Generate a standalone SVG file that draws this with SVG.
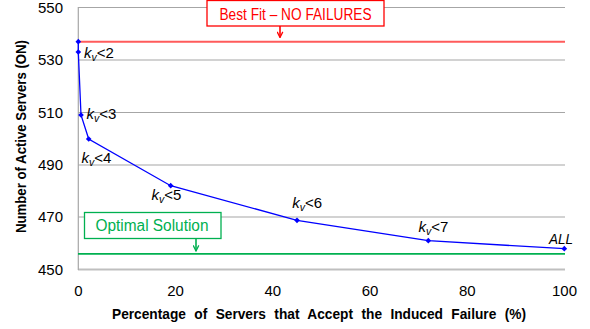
<svg xmlns="http://www.w3.org/2000/svg" width="590" height="329" viewBox="0 0 590 329">
  <style>
    .grid { stroke: #a6a6a6; stroke-width: 1.2; fill: none; }
    .axis { stroke: #bfbfbf; stroke-width: 2; fill: none; }
    .tick { font-family: "Liberation Sans", Arial, sans-serif; font-size: 15px; fill: #000; }
    .title { font-family: "Liberation Sans", Arial, sans-serif; font-size: 15px; font-weight: bold; fill: #000; }
    .lbl { font-family: "Liberation Sans", Arial, sans-serif; font-size: 15px; fill: #000; }
    .it { font-style: italic; }
    .sub { font-size: 10.5px; font-style: italic; }
    .series { stroke: #0000ff; stroke-width: 1.3; fill: none; }
    .pt { fill: #0000ff; }
  </style>
  <defs>
    <marker id="arrRed" viewBox="0 0 10 10" refX="9" refY="5" markerWidth="7" markerHeight="7" orient="auto" markerUnits="userSpaceOnUse">
      <path d="M1,1 L9,5 L1,9" fill="none" stroke="#ff0000" stroke-width="1.8"/>
    </marker>
    <marker id="arrGreen" viewBox="0 0 10 10" refX="9" refY="5" markerWidth="7" markerHeight="7" orient="auto" markerUnits="userSpaceOnUse">
      <path d="M1,1 L9,5 L1,9" fill="none" stroke="#00b050" stroke-width="1.8"/>
    </marker>
  </defs>

  <rect width="590" height="329" fill="#ffffff"/>

  <!-- gridlines and axes -->
  <g id="grid">
    <line class="grid" x1="78" y1="7.5" x2="565" y2="7.5"/>
    <line class="grid" x1="78" y1="60" x2="565" y2="60"/>
    <line class="grid" x1="78" y1="112.5" x2="565" y2="112.5"/>
    <line class="grid" x1="78" y1="165" x2="565" y2="165"/>
    <line class="grid" x1="78" y1="217" x2="565" y2="217"/>
    <line class="axis" x1="78" y1="269.5" x2="565" y2="269.5"/>
    <line class="grid" x1="78.3" y1="7" x2="78.3" y2="270"/>
  </g>

  <!-- tick labels -->
  <g id="y-ticks" class="tick" text-anchor="end">
    <text x="63" y="12.8">550</text>
    <text x="63" y="65.3">530</text>
    <text x="63" y="117.8">510</text>
    <text x="63" y="170.3">490</text>
    <text x="63" y="222.3">470</text>
    <text x="63" y="274.8">450</text>
  </g>
  <g id="x-ticks" class="tick" text-anchor="middle">
    <text x="78.3" y="295.5">0</text>
    <text x="175.5" y="295.5">20</text>
    <text x="272.8" y="295.5">40</text>
    <text x="370" y="295.5">60</text>
    <text x="467.3" y="295.5">80</text>
    <text x="564.5" y="295.5">100</text>
  </g>

  <!-- axis titles -->
  <text id="y-title" class="title" transform="translate(25.5,136.5) rotate(-90)" text-anchor="middle" textLength="193" lengthAdjust="spacingAndGlyphs">Number of Active Servers (ON)</text>
  <text id="x-title" class="title" x="112" y="318.5" textLength="414" lengthAdjust="spacingAndGlyphs" word-spacing="5">Percentage of Servers that Accept the Induced Failure (%)</text>

  <!-- reference levels -->
  <g id="best-fit">
    <line x1="78" y1="41.7" x2="565" y2="41.7" stroke="#ff5b5b" stroke-width="2"/>
    <rect x="207" y="0.5" width="177" height="25.5" fill="#ffffff" stroke="#ff0000" stroke-width="1.3"/>
    <text x="295.5" y="19.5" text-anchor="middle" font-family="'Liberation Sans', Arial, sans-serif" font-size="16" fill="#ff0000" textLength="152" lengthAdjust="spacingAndGlyphs">Best Fit – NO FAILURES</text>
  </g>
  <g id="optimal">
    <line x1="78" y1="253.8" x2="565" y2="253.8" stroke="#00b050" stroke-width="1.8"/>
    <rect x="84.5" y="212.5" width="136.5" height="26" fill="#ffffff" stroke="#00b050" stroke-width="1.3"/>
    <text x="152" y="231" text-anchor="middle" font-family="'Liberation Sans', Arial, sans-serif" font-size="16" fill="#00b050" textLength="113" lengthAdjust="spacingAndGlyphs">Optimal Solution</text>
  </g>

  <!-- connectors -->
  <g id="connectors">
    <line x1="280" y1="26" x2="280" y2="37.5" stroke="#ff0000" stroke-width="1.6" marker-end="url(#arrRed)"/>
    <line x1="196" y1="238.5" x2="196" y2="251" stroke="#00b050" stroke-width="1.6" marker-end="url(#arrGreen)"/>
  </g>

  <!-- data series -->
  <g id="series">
    <polyline class="series" points="78.3,41.7 78.3,52 81,115 88.7,139 170.7,185.7 297,220.3 428.3,240.7 564.3,248.7"/>
    <g class="pt">
      <rect x="76.3" y="39.7" width="4" height="4" transform="rotate(45 78.3 41.7)"/>
      <rect x="76.3" y="50" width="4" height="4" transform="rotate(45 78.3 52)"/>
      <rect x="79" y="113" width="4" height="4" transform="rotate(45 81 115)"/>
      <rect x="86.7" y="137" width="4" height="4" transform="rotate(45 88.7 139)"/>
      <rect x="168.7" y="183.7" width="4" height="4" transform="rotate(45 170.7 185.7)"/>
      <rect x="295" y="218.3" width="4" height="4" transform="rotate(45 297 220.3)"/>
      <rect x="426.3" y="238.7" width="4" height="4" transform="rotate(45 428.3 240.7)"/>
      <rect x="562.3" y="246.7" width="4" height="4" transform="rotate(45 564.3 248.7)"/>
    </g>
  </g>

  <!-- point labels -->
  <g id="labels" class="lbl">
    <text x="84" y="57.5"><tspan class="it">k</tspan><tspan class="sub" dy="3">v</tspan><tspan dy="-3">&lt;2</tspan></text>
    <text x="86.5" y="119"><tspan class="it">k</tspan><tspan class="sub" dy="3">v</tspan><tspan dy="-3">&lt;3</tspan></text>
    <text x="81.5" y="163"><tspan class="it">k</tspan><tspan class="sub" dy="3">v</tspan><tspan dy="-3">&lt;4</tspan></text>
    <text x="151.5" y="200"><tspan class="it">k</tspan><tspan class="sub" dy="3">v</tspan><tspan dy="-3">&lt;5</tspan></text>
    <text x="292.3" y="207.5"><tspan class="it">k</tspan><tspan class="sub" dy="3">v</tspan><tspan dy="-3">&lt;6</tspan></text>
    <text x="418.5" y="231.5"><tspan class="it">k</tspan><tspan class="sub" dy="3">v</tspan><tspan dy="-3">&lt;7</tspan></text>
    <text x="549" y="244" class="it" textLength="24" lengthAdjust="spacingAndGlyphs">ALL</text>
  </g>
</svg>
